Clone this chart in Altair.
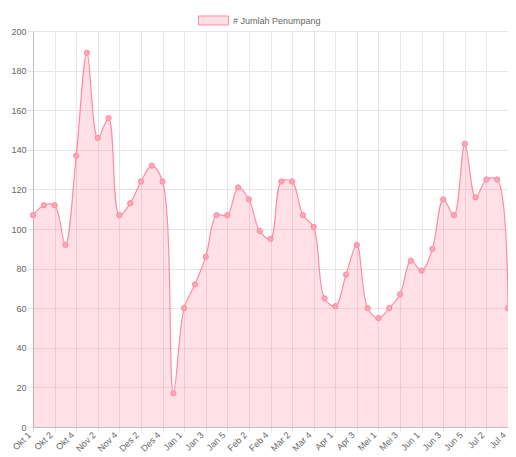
import json
import altair as alt
import pandas as pd

weeks = ["Okt 1", "Okt 1", "Okt 2", "Okt 3", "Okt 4",
         "Nov 1", "Nov 2", "Nov 3", "Nov 4",
         "Des 1", "Des 2", "Des 3", "Des 4", "Des 5",
         "Jan 1", "Jan 2", "Jan 3", "Jan 4", "Jan 5",
         "Feb 1", "Feb 2", "Feb 3", "Feb 4",
         "Mar 1", "Mar 2", "Mar 3", "Mar 4", "Mar 5",
         "Apr 1", "Apr 2", "Apr 3", "Apr 4",
         "Mei 1", "Mei 2", "Mei 3", "Mei 4",
         "Jun 1", "Jun 2", "Jun 3", "Jun 4", "Jun 5",
         "Jul 1", "Jul 2", "Jul 3", "Jul 4"]
passengers = [107, 112, 112, 92, 137, 189, 146, 156, 107, 113,
              124, 132, 124, 17, 60, 72, 86, 107, 107, 121,
              115, 99, 95, 124, 124, 107, 101, 65, 61, 77,
              92, 60, 55, 60, 67, 84, 79, 90, 115, 107,
              143, 116, 125, 125, 60]
series_name = "# Jumlah Penumpang"
y_ticks = list(range(0, 201, 20))

df = pd.DataFrame({
    "idx": list(range(len(passengers))),
    "week": weeks,
    "value": passengers,
    "series": [series_name] * len(passengers),
})

FONT = "Liberation Sans"
PINK = "rgb(255,99,132)"
PINK_FILL = "rgba(255,99,132,0.2)"

x_enc = alt.X(
    "idx:Q",
    scale=alt.Scale(domain=[0, len(weeks) - 1], nice=False, zero=False),
    axis=alt.Axis(
        values=list(range(0, len(weeks), 2)),
        labelExpr=f"{json.dumps(weeks)}[datum.value]",
        labelAngle=-45, labelAlign="right", labelBaseline="middle",
        labelOverlap=False, labelFlush=False, labelBound=False,
        labelOffset=-4,
        title=None, grid=True, gridColor="#e6e6e6",
        tickColor="#e6e6e6", tickSize=5, labelPadding=1,
        domainColor="#bdbdbd", labelColor="#666", labelFont=FONT,
        labelFontSize=9,
    ),
)
y_enc = alt.Y(
    "value:Q",
    scale=alt.Scale(domain=[0, 200], nice=False),
    axis=alt.Axis(
        values=y_ticks, title=None, grid=True, gridColor="#e6e6e6",
        tickColor="#e6e6e6", tickSize=6, labelPadding=1,
        labelOverlap=False, labelFlush=False,
        domainColor="#bdbdbd", labelColor="#666", labelFont=FONT,
        labelFontSize=9,
    ),
)

base = alt.Chart(df).encode(x=x_enc, y=y_enc)

area = base.mark_area(interpolate="catmull-rom", opacity=1).encode(
    color=alt.Color(
        "series:N",
        scale=alt.Scale(domain=[series_name], range=[PINK_FILL]),
        legend=alt.Legend(
            orient="none", legendX=165, legendY=-26, title=None,
            symbolType="M-1,-0.3H1V0.3H-1Z", symbolSize=900,
            symbolStrokeColor="#ff8ca2", symbolStrokeWidth=1, symbolOpacity=1,
            labelFont=FONT, labelFontSize=9, labelColor="#666",
            labelOffset=4, padding=0,
        ),
    )
)
line = base.mark_line(interpolate="catmull-rom", color=PINK,
                      strokeWidth=1.2, strokeOpacity=0.7)
points = base.mark_point(
    shape="circle", filled=False, fill="#ffa6b8", stroke="#ff8ca2",
    strokeWidth=1, size=28, opacity=1,
)

chart = (
    alt.layer(area, line, points)
    .properties(
        width=475, height=396,
        autosize=alt.AutoSizeParams(type="none"),
        padding={"left": 25, "top": 23, "right": 0, "bottom": 30},
    )
    .configure_view(stroke=None)
)

chart.save("out.html", embed_options={"renderer": "svg", "actions": False})
